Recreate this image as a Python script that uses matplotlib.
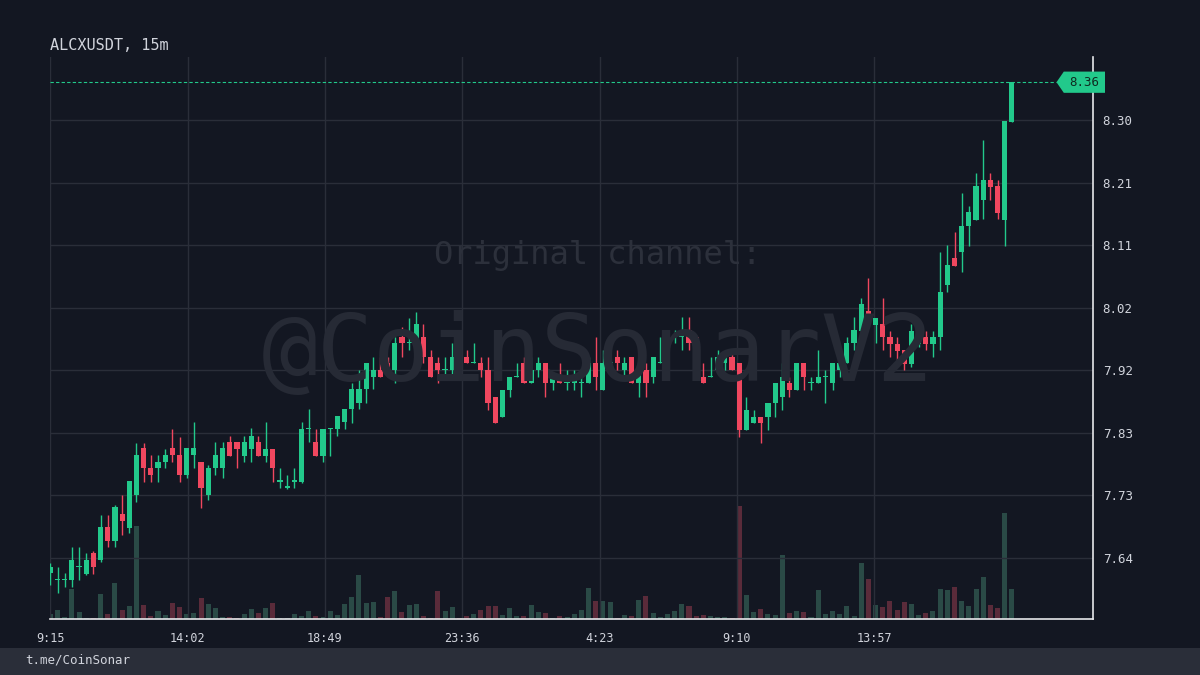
import numpy as np
import matplotlib
matplotlib.use("Agg")
import matplotlib.pyplot as plt
from matplotlib.patches import Polygon, Rectangle

# 15m candles, ALCXUSDT
opens = [7.617, 7.607, 7.607, 7.607, 7.626, 7.616, 7.648, 7.637, 7.687, 7.666,
         7.706, 7.685, 7.735, 7.806, 7.776, 7.776, 7.785, 7.806, 7.795, 7.765,
         7.795, 7.785, 7.735, 7.776, 7.776, 7.815, 7.815, 7.794, 7.804, 7.815,
         7.794, 7.804, 7.755, 7.746, 7.755, 7.755, 7.834, 7.815, 7.794, 7.834,
         7.834, 7.845, 7.865, 7.874, 7.895, 7.913, 7.923, 7.934, 7.923, 7.973,
         7.964, 7.964, 7.973, 7.943, 7.934, 7.923, 7.923, 7.964, 7.943, 7.934,
         7.934, 7.923, 7.883, 7.853, 7.893, 7.913, 7.934, 7.904, 7.923, 7.934,
         7.904, 7.913, 7.904, 7.904, 7.904, 7.904, 7.934, 7.893, 7.934, 7.943,
         7.923, 7.943, 7.904, 7.923, 7.913, 7.934, 7.934, 7.973, 7.973, 7.984,
         7.973, 7.913, 7.913, 7.923, 7.934, 7.943, 7.934, 7.833, 7.843, 7.853,
         7.853, 7.874, 7.883, 7.904, 7.893, 7.934, 7.904, 7.904, 7.913, 7.904,
         7.923, 7.934, 7.964, 7.982, 8.012, 7.991, 7.993, 7.973, 7.963, 7.953,
         7.932, 7.963, 7.973, 7.963, 7.973, 8.051, 8.092, 8.101, 8.140, 8.149,
         8.180, 8.210, 8.201, 8.149, 8.297]
highs = [7.632, 7.626, 7.617, 7.657, 7.657, 7.648, 7.650, 7.705, 7.705, 7.720,
         7.735, 7.756, 7.813, 7.813, 7.795, 7.795, 7.804, 7.834, 7.822, 7.806,
         7.845, 7.785, 7.780, 7.815, 7.815, 7.824, 7.815, 7.824, 7.836, 7.824,
         7.845, 7.804, 7.776, 7.765, 7.776, 7.845, 7.865, 7.834, 7.834, 7.836,
         7.854, 7.865, 7.904, 7.923, 7.934, 7.943, 7.943, 7.943, 7.973, 7.988,
         8.002, 8.011, 7.993, 7.953, 7.943, 7.943, 7.964, 7.964, 7.953, 7.964,
         7.943, 7.943, 7.883, 7.893, 7.913, 7.934, 7.943, 7.943, 7.943, 7.934,
         7.913, 7.934, 7.923, 7.923, 7.923, 7.943, 7.973, 7.953, 7.973, 7.953,
         7.943, 7.943, 7.953, 7.934, 7.943, 7.973, 7.984, 7.984, 8.003, 8.003,
         7.973, 7.934, 7.943, 7.953, 7.943, 7.953, 7.934, 7.883, 7.863, 7.853,
         7.874, 7.904, 7.934, 7.913, 7.934, 7.934, 7.913, 7.953, 7.923, 7.934,
         7.934, 7.973, 8.003, 8.032, 8.062, 8.002, 8.032, 7.982, 7.973, 7.953,
         7.993, 7.982, 7.982, 7.982, 8.101, 8.112, 8.131, 8.190, 8.171, 8.220,
         8.270, 8.220, 8.210, 8.299, 8.357]
lows = [7.599, 7.587, 7.596, 7.596, 7.607, 7.614, 7.616, 7.634, 7.657, 7.657,
        7.675, 7.678, 7.724, 7.755, 7.755, 7.755, 7.776, 7.785, 7.755, 7.760,
        7.776, 7.715, 7.727, 7.765, 7.760, 7.794, 7.776, 7.785, 7.785, 7.794,
        7.785, 7.755, 7.746, 7.744, 7.746, 7.753, 7.815, 7.794, 7.785, 7.794,
        7.824, 7.834, 7.843, 7.865, 7.874, 7.895, 7.913, 7.913, 7.904, 7.943,
        7.953, 7.953, 7.934, 7.913, 7.904, 7.913, 7.913, 7.934, 7.934, 7.934,
        7.913, 7.863, 7.843, 7.853, 7.883, 7.913, 7.904, 7.904, 7.913, 7.883,
        7.893, 7.904, 7.893, 7.893, 7.883, 7.904, 7.893, 7.893, 7.934, 7.923,
        7.913, 7.904, 7.883, 7.883, 7.904, 7.934, 7.934, 7.964, 7.953, 7.953,
        7.913, 7.904, 7.913, 7.923, 7.923, 7.923, 7.822, 7.833, 7.843, 7.813,
        7.833, 7.853, 7.863, 7.883, 7.893, 7.893, 7.893, 7.904, 7.874, 7.893,
        7.913, 7.934, 7.953, 7.953, 7.991, 7.964, 7.953, 7.943, 7.934, 7.923,
        7.928, 7.958, 7.953, 7.943, 7.953, 8.041, 8.080, 8.071, 8.110, 8.149,
        8.151, 8.180, 8.151, 8.110, 8.297]
closes = [7.626, 7.608, 7.607, 7.637, 7.627, 7.637, 7.626, 7.687, 7.666, 7.717,
          7.696, 7.756, 7.795, 7.776, 7.765, 7.785, 7.795, 7.795, 7.765, 7.806,
          7.806, 7.746, 7.776, 7.795, 7.806, 7.794, 7.804, 7.815, 7.824, 7.794,
          7.804, 7.776, 7.756, 7.747, 7.756, 7.834, 7.835, 7.794, 7.834, 7.835,
          7.854, 7.865, 7.895, 7.895, 7.934, 7.923, 7.913, 7.923, 7.964, 7.964,
          7.965, 7.993, 7.943, 7.913, 7.923, 7.924, 7.943, 7.934, 7.934, 7.935,
          7.923, 7.874, 7.843, 7.893, 7.913, 7.914, 7.904, 7.923, 7.934, 7.904,
          7.913, 7.904, 7.905, 7.913, 7.905, 7.934, 7.913, 7.934, 7.935, 7.934,
          7.934, 7.904, 7.923, 7.904, 7.943, 7.935, 7.964, 7.974, 7.984, 7.964,
          7.913, 7.904, 7.914, 7.943, 7.943, 7.923, 7.833, 7.863, 7.853, 7.843,
          7.874, 7.904, 7.913, 7.893, 7.934, 7.913, 7.905, 7.913, 7.914, 7.934,
          7.934, 7.964, 7.984, 8.023, 7.991, 8.002, 7.973, 7.963, 7.952, 7.932,
          7.982, 7.964, 7.963, 7.973, 8.041, 8.082, 8.080, 8.140, 8.161, 8.201,
          8.210, 8.199, 8.160, 8.299, 8.357]
volumes = [15, 28, 6, 90, 22, 3, 3, 75, 15, 107,
           28, 40, 280, 43, 10, 25, 12, 47, 37, 15,
           19, 63, 45, 33, 6, 5, 3, 14, 31, 18,
           33, 49, 3, 3, 16, 10, 23, 9, 7, 23,
           13, 45, 66, 131, 48, 52, 6, 66, 85, 20,
           43, 45, 8, 3, 84, 25, 37, 3, 9, 16,
           27, 38, 38, 12, 32, 8, 9, 43, 22, 17,
           3, 9, 6, 15, 28, 93, 55, 55, 52, 2,
           12, 9, 58, 69, 19, 7, 14, 24, 45, 39,
           10, 12, 9, 7, 6, 4, 338, 72, 22, 31,
           14, 12, 192, 18, 24, 22, 6, 88, 15, 25,
           16, 40, 10, 168, 120, 42, 37, 55, 27, 52,
           44, 11, 19, 23, 90, 86, 96, 53, 38, 90,
           127, 43, 32, 317, 89]

time_labels = ["9:15", "14:02", "18:49", "23:36", "4:23", "9:10", "13:57"]
y_ticks = 7.64 + 0.0943 * np.arange(8)
last_price = closes[-1]

BG = "#131722"
GRID = "#2a2e39"
UP = "#22c98b"
DOWN = "#f0475f"
VOL_UP = "#2a4a46"
VOL_DOWN = "#5a2b3a"
TEXT = "#d1d4dc"

o = np.array(opens)
h = np.array(highs)
l = np.array(lows)
c = np.array(closes)
v = np.array(volumes)
idx = np.arange(len(o))
up = c >= o

# x ticks: minutes since first candle / 15, rolling over midnight
def to_min(s):
    hh, mm = s.split(":")
    return int(hh) * 60 + int(mm)

tick_pos = []
day = 0
prev = None
for s in time_labels:
    m = to_min(s)
    if prev is not None and m < prev:
        day += 1
    prev = m
    tick_pos.append((m + day * 1440 - to_min(time_labels[0])) / 15.0)

fig = plt.figure(figsize=(12, 6.75), dpi=100, facecolor=BG)
fig.patches.append(Rectangle((0, 0), 1, 27 / 675, transform=fig.transFigure,
                             facecolor="#2a2e39", edgecolor="none", zorder=0))

ax = fig.add_axes([50 / 1200, 56 / 675, 1043 / 1200, 562 / 675])
ax2 = ax.twinx()
ax.set_zorder(ax2.get_zorder() + 1)
ax.patch.set_visible(False)
ax2.set_facecolor(BG)

# volume
ax2.bar(idx, v, width=0.7, color=np.where(up, VOL_UP, VOL_DOWN), linewidth=0)
ax2.set_ylim(0, v.max() * 4.99)
ax2.set_yticks([])
for sp in ax2.spines.values():
    sp.set_visible(False)

# candles
colors = np.where(up, UP, DOWN)
ax.vlines(idx, l, h, colors=colors, linewidth=1, zorder=3)
body_bottom = np.minimum(o, c)
body_h = np.maximum(np.abs(c - o), 0.0018)
ax.bar(idx, body_h, bottom=body_bottom, width=0.72, color=colors, linewidth=0, zorder=4)

ax.set_xlim(-0.05, 145.3)
ax.set_ylim(7.548, 8.395)

ax.set_xticks(tick_pos)
ax.set_xticklabels(time_labels)
ax.set_yticks(y_ticks)
ax.set_yticklabels(["%.2f" % t for t in y_ticks])
ax.yaxis.tick_right()
ax.tick_params(axis="both", length=0, colors=TEXT, labelsize=9)
ax.tick_params(axis="x", pad=9, labelsize=8.5)
ax.tick_params(axis="y", pad=7)
for lab in ax.get_xticklabels() + ax.get_yticklabels():
    lab.set_fontfamily("DejaVu Sans Mono")
ax.grid(True, color=GRID, linewidth=1, zorder=0)
ax.set_axisbelow(True)

for side in ["left", "top"]:
    ax.spines[side].set_visible(False)
for side in ["right", "bottom"]:
    ax.spines[side].set_color("#e6e7ea")
    ax.spines[side].set_linewidth(1.2)

# last price line and tag
ax.axhline(last_price, xmin=0, xmax=0.965, color=UP, linestyle=(0, (3, 2)), linewidth=0.8, zorder=2)
trans = ax.get_yaxis_transform()
tag = Polygon([[0.965, last_price], [0.972, last_price + 0.016], [1.0115, last_price + 0.016],
               [1.0115, last_price - 0.016], [0.972, last_price - 0.016]],
              closed=True, transform=trans, facecolor=UP, edgecolor="none",
              clip_on=False, zorder=10)
ax.add_patch(tag)
ax.text(0.992, last_price, "%.2f" % last_price, transform=trans, ha="center", va="center",
        fontsize=9, color="#0f2a20", family="DejaVu Sans Mono", zorder=11, clip_on=False)

# watermark
fig.text(0.498, 0.622, "Original channel:", ha="center", va="center", fontsize=23,
         color="#2c303b", family="DejaVu Sans Mono", zorder=1)
fig.text(0.498, 0.474, "@CoinSonarV2", ha="center", va="center", fontsize=67,
         color="#262a35", family="DejaVu Sans Mono", zorder=1)

fig.text(50 / 1200, 1 - 45 / 675, "ALCXUSDT, 15m", ha="left", va="center", fontsize=11,
         color=TEXT, family="DejaVu Sans Mono")
fig.text(25 / 1200, 1 - 660 / 675, "t.me/CoinSonar", ha="left", va="center", fontsize=9,
         color=TEXT, family="DejaVu Sans Mono")

fig.savefig("out.png", dpi=100, facecolor=BG)
